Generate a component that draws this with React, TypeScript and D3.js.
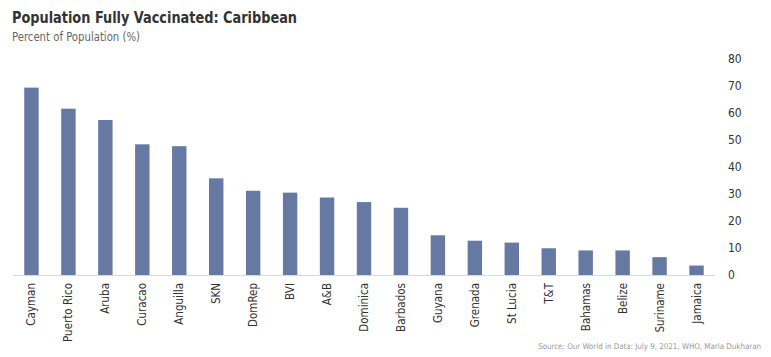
import React from "react";
import * as d3 from "d3";

const categories = ["Cayman","Puerto Rico","Aruba","Curacao","Anguilla","SKN","DomRep","BVI","A&B","Dominica","Barbados","Guyana","Grenada","St Lucia","T&T","Bahamas","Belize","Suriname","Jamaica"];
const values = [69.4,61.6,57.4,48.4,47.7,35.8,31.2,30.5,28.7,27.0,24.9,14.7,12.7,12.0,9.9,9.1,9.1,6.6,3.5];
const yTicks = [0,10,20,30,40,50,60,70,80];

const W = 771, H = 357;
const left = 13, right = 715, top = 59, bottom = 275;
const font = "'DejaVu Sans Condensed', 'DejaVu Sans', sans-serif";

export default function App() {
  const x = d3.scaleBand<string>().domain(categories).range([left, right]).paddingInner(0.61).paddingOuter(0.305);
  const y = d3.scaleLinear().domain([0, 80]).range([bottom, top]);
  return (
    <svg width={W} height={H} style={{ position: "absolute", left: 0, top: 0, background: "#fff" }}>
      <text x={12} y={23} fontFamily={font} fontWeight="bold" fontSize={16} fill="#333" textLength={285} lengthAdjust="spacingAndGlyphs">Population Fully Vaccinated: Caribbean</text>
      <text x={12} y={41} fontFamily={font} fontSize={11.5} fill="#666" textLength={128} lengthAdjust="spacingAndGlyphs">Percent of Population (%)</text>
      {categories.map((c, i) => (
        <rect key={c} x={x(c)} y={y(values[i])} width={x.bandwidth()} height={bottom - y(values[i])} fill="#6579a3" />
      ))}
      <line x1={left} x2={right} y1={bottom + 0.5} y2={bottom + 0.5} stroke="#d9d9d9" strokeWidth={1} />
      {yTicks.map(t => (
        <text key={t} x={728} y={y(t)} dy="0.35em" fontFamily={font} fontSize={12} fill="#333">{t}</text>
      ))}
      {categories.map(c => {
        const cx = (x(c) as number) + x.bandwidth() / 2;
        return (
          <text key={c} transform={`translate(${cx + 4},283) rotate(-90)`} textAnchor="end" fontFamily={font} fontSize={11.5} fill="#333">{c}</text>
        );
      })}
      <text x={761} y={349} textAnchor="end" fontFamily={font} fontSize={7.9} fill="#999">Source: Our World in Data: July 9, 2021, WHO, Marla Dukharan</text>
    </svg>
  );
}
